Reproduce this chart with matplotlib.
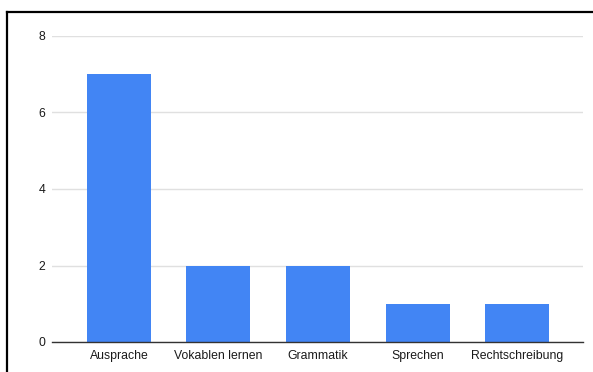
import matplotlib.pyplot as plt
from matplotlib.lines import Line2D

categories = ['Ausprache', 'Vokablen lernen', 'Grammatik', 'Sprechen', 'Rechtschreibung']
counts = [7, 2, 2, 1, 1]
y_ticks = [0, 2, 4, 6, 8]

plt.rcParams['font.family'] = ['Liberation Sans', 'DejaVu Sans']

fig = plt.figure(figsize=(5.93, 3.72), dpi=100)
fig.patch.set_facecolor('white')
ax = fig.add_axes([52 / 593, 30 / 372, 531 / 593, 306 / 372])

x = list(range(len(categories)))
ax.bar(x, counts, width=0.643, color='#4285f4', zorder=3)

ax.set_xlim(-0.673, 4.663)
ax.set_ylim(0, 8)
ax.set_yticks(y_ticks)
ax.set_yticklabels([str(t) for t in y_ticks])
ax.set_xticks(x)
ax.set_xticklabels(categories)

ax.grid(axis='y', color='#e0e0e0', linewidth=1, zorder=0)
ax.tick_params(axis='both', length=0, labelsize=8.8, colors='#1a1a1a')
ax.tick_params(axis='x', pad=5.5)
ax.tick_params(axis='y', pad=5)

for side in ['top', 'right', 'left']:
    ax.spines[side].set_visible(False)
ax.spines['bottom'].set_color('#333333')
ax.spines['bottom'].set_linewidth(1)
ax.spines['bottom'].set_zorder(4)

# dark frame along the top and left edge
fig.add_artist(Line2D([6.5 / 593, 1.0], [1 - 11.5 / 372, 1 - 11.5 / 372],
                      color='black', linewidth=1.6, transform=fig.transFigure))
fig.add_artist(Line2D([6.5 / 593, 6.5 / 593], [0, 1 - 11.5 / 372],
                      color='black', linewidth=1.6, transform=fig.transFigure))

fig.savefig('out.png', dpi=100)
